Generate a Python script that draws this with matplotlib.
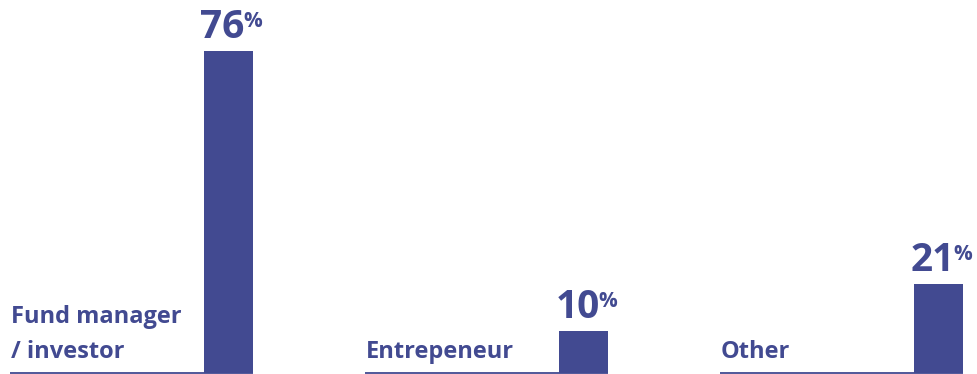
import matplotlib
matplotlib.use("Agg")
import matplotlib.pyplot as plt

categories = ["Fund manager\n/ investor", "Entrepeneur", "Other"]
values = [76, 10, 21]
value_labels = ["76", "10", "21"]

COLOR = "#424A91"
FONT = "Open Sans"

W, H, DPI = 977, 374, 100
fig = plt.figure(figsize=(W / DPI, H / DPI), dpi=DPI)
ax = fig.add_axes([0, 0, 1, 1])

# pixel-based layout helpers (layout only, not data)
panel_px = 355.0
left_px = 10.0
base_px_from_top = 373.0
px_per_unit = 322.0 / 76.0

ax.set_xlim(-left_px / panel_px, (W - left_px) / panel_px)
ax.set_ylim(-(H - base_px_from_top) / px_per_unit, base_px_from_top / px_per_unit)
ax.axis("off")

bar_w = 49 / panel_px
bar_center = 218.5 / panel_px
line_len = 243 / panel_px

def pt(px):
    return px * 72.0 / DPI

for i, (cat, v, lab) in enumerate(zip(categories, values, value_labels)):
    x0 = i
    ax.bar(x0 + bar_center, v, width=bar_w, color=COLOR, linewidth=0, zorder=2)
    ax.plot([x0, x0 + line_len], [0, 0], color=COLOR, linewidth=1.3,
            solid_capstyle="butt", zorder=3)
    # value label
    num = ax.annotate(lab, xy=(x0 + bar_center, v), xytext=(pt(16), pt(13)),
                      textcoords="offset points", ha="right", va="baseline",
                      fontsize=28, fontweight="bold", family=FONT, color=COLOR)
    ax.annotate("%", xy=(1, 1), xycoords=num, xytext=(pt(-1), pt(-3)),
                textcoords="offset points", ha="left", va="top",
                fontsize=15, fontweight="bold", family=FONT, color=COLOR)
    # category label lines, bottom up
    lines = cat.split("\n")
    for j, line in enumerate(reversed(lines)):
        ax.annotate(line, xy=(x0, 0), xytext=(pt(1), pt(15 + 35 * j)),
                    textcoords="offset points", ha="left", va="baseline",
                    fontsize=17, fontweight="bold", family=FONT, color=COLOR)

fig.savefig("out.png", dpi=DPI)
